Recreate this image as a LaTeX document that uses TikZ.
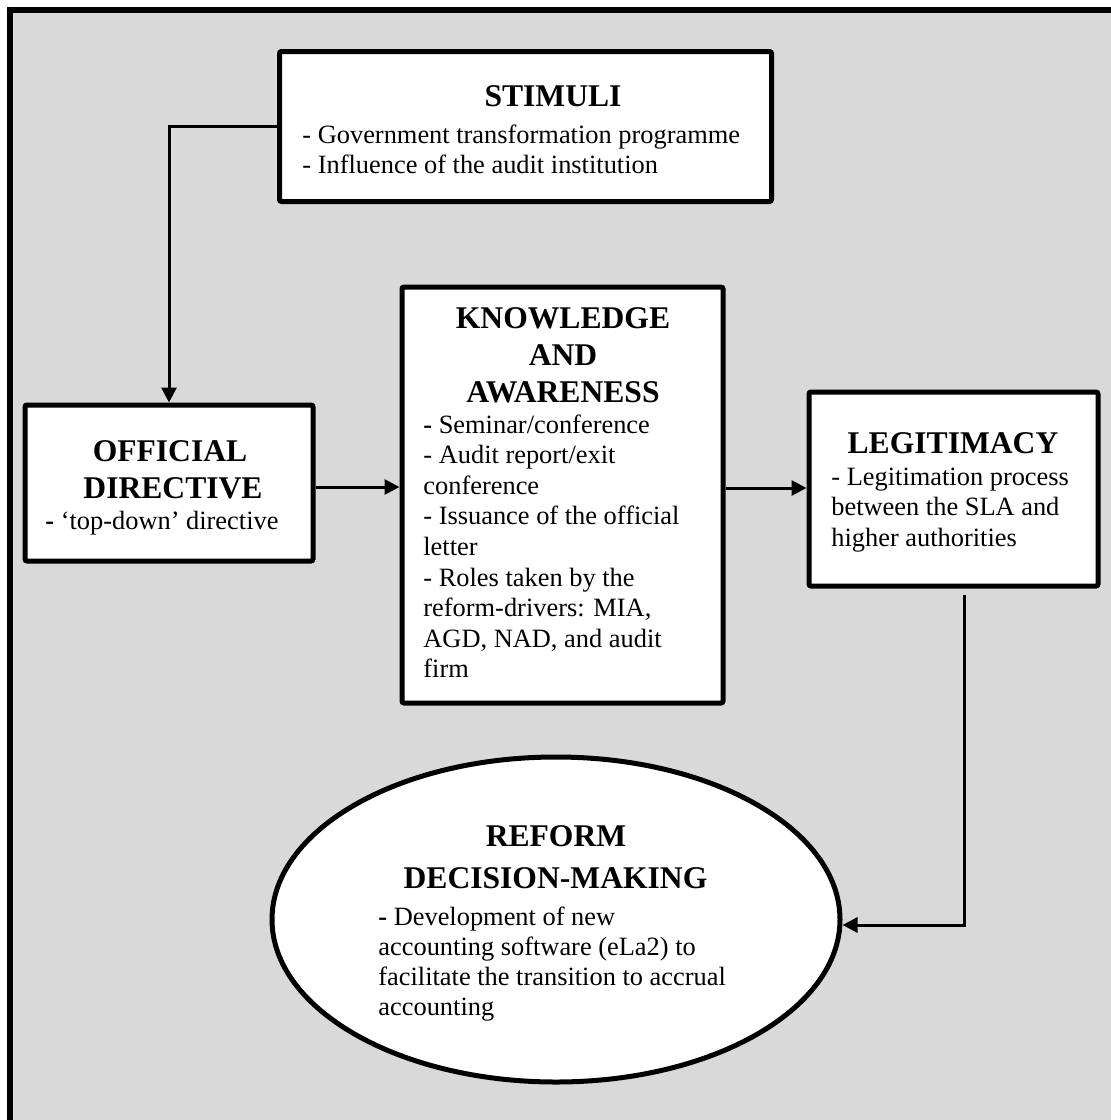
\documentclass[tikz,border=0pt]{standalone}
\usepackage{fontspec}
\setmainfont{Liberation Serif}
\usetikzlibrary{arrows.meta,shapes.geometric,calc}
\definecolor{panelgray}{RGB}{217,217,217}
\newcommand\pxu{0.5pt}
\tikzset{
  box/.style={draw, line width=2.5pt, fill=white, inner sep=0pt, rounded corners=1pt},
  oval/.style={draw, ellipse, line width=2.5pt, fill=white, inner sep=0pt},
  flow/.style={line width=1.5pt, -{Triangle[length=7.5pt,width=7.5pt]}},
  title/.style={font=\bfseries\fontsize{15.8}{18}\selectfont, inner sep=0pt, anchor=base},
  body/.style={font=\fontsize{13.2}{15}\selectfont, inner sep=0pt, anchor=base west},
}
\begin{document}
\begin{tikzpicture}[x=0.5pt,y=-0.5pt]
\useasboundingbox (0,0) rectangle (1111,1120);
\fill[white] (0,0) rectangle (1111,1120);
% grey panel with its frame
\begin{scope}
  \clip (0,0) rectangle (1111,1120);
  \draw[line width=3pt, fill=panelgray] (10,10) rectangle (1117,1130);
\end{scope}

% boxes
\node[box, minimum width=492*\pxu, minimum height=150*\pxu] (stim) at (525.5,126.5) {};
\node[box, minimum width=288*\pxu, minimum height=156*\pxu] (od) at (169,483) {};
\node[box, minimum width=321*\pxu, minimum height=416*\pxu] (ka) at (562.5,495) {};
\node[box, minimum width=289*\pxu, minimum height=194*\pxu] (leg) at (953.5,489) {};
\node[oval, minimum width=568*\pxu, minimum height=325*\pxu] (dec) at (556,919.5) {};

% STIMULI
\node[title] (stim-t) at (553,106) {STIMULI};
\foreach \ln [count=\k] in {{- Government transformation programme},{- Influence of the audit institution}}
  \node[body] (stim-\k) at (302,{143+30*(\k-1)}) {\ln};

% OFFICIAL DIRECTIVE
\node[title] (od-t1) at (170,461) {OFFICIAL};
\node[title] (od-t2) at (173,498) {DIRECTIVE};
\node[body] (od-1) at (45,529) {{\bfseries -} ‘top-down’ directive};

% KNOWLEDGE AND AWARENESS
\node[title] (ka-t1) at (563,328) {KNOWLEDGE};
\node[title] (ka-t2) at (563,365) {AND};
\node[title] (ka-t3) at (563,402) {AWARENESS};
\foreach \ln [count=\k] in {{{\bfseries -} Seminar/conference},{- Audit report/exit},{conference},{- Issuance of the official},{letter},{- Roles taken by the},{reform-drivers: MIA,},{AGD, NAD, and audit},{firm}}
  \node[body] (ka-\k) at (423,{433+30.6*(\k-1)}) {\ln};

% LEGITIMACY
\node[title] (leg-t) at (953,453) {LEGITIMACY};
\foreach \ln [count=\k] in {{- Legitimation process},{between the SLA and},{higher authorities}}
  \node[body] (leg-\k) at (831,{485+30.5*(\k-1)}) {\ln};

% REFORM DECISION-MAKING
\node[title] (dec-t1) at (556,846) {REFORM};
\node[title] (dec-t2) at (555.5,888) {DECISION-MAKING};
\foreach \ln [count=\k] in {{{\bfseries -} Development of new},{accounting software (eLa2) to},{facilitate the transition to accrual},{accounting}}
  \node[body] (dec-\k) at (378,{925+30*(\k-1)}) {\ln};

% connectors
\draw[flow] (stim.west) -| (od.north);
\draw[flow] (od.east |- 0,487) -- (ka.west |- 0,487);
\draw[flow] (ka.east |- 0,488) -- (leg.west |- 0,488);
\draw[flow] ($(leg.south)+(11,6)$) |- ($(dec.east)+(0,5.5)$);
\end{tikzpicture}
\end{document}
